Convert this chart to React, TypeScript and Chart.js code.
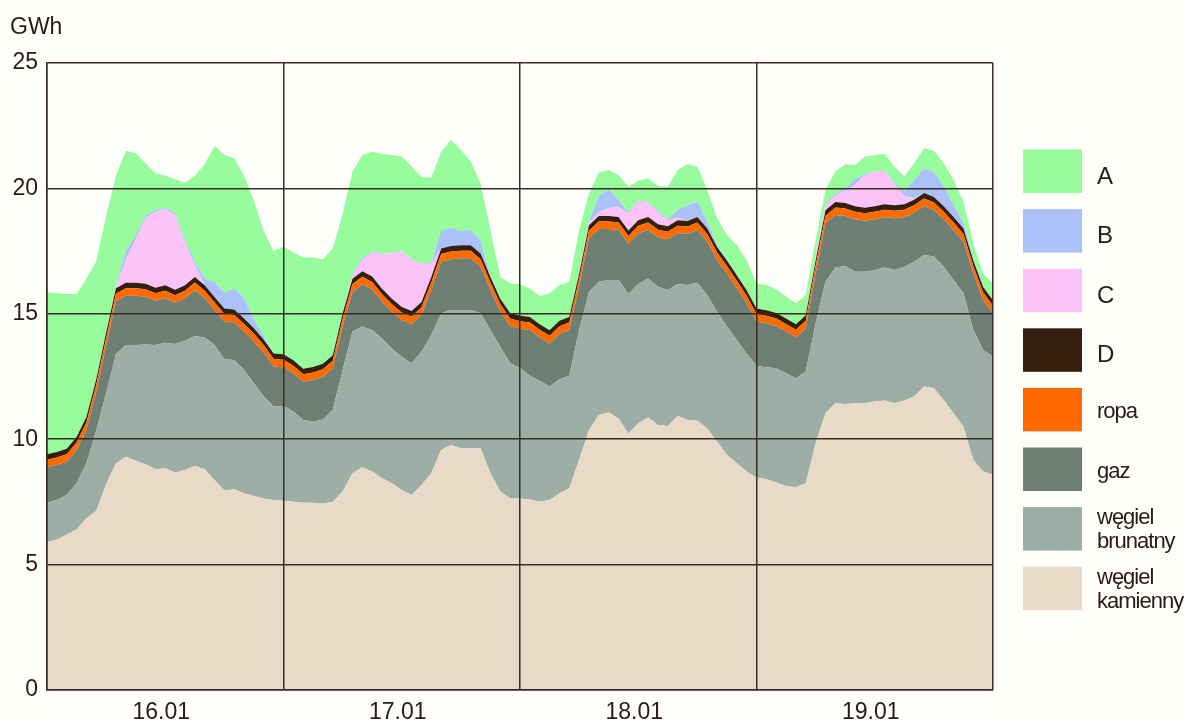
import React, { useEffect, useRef } from 'react';
import { Chart, registerables } from 'chart.js';

Chart.register(...registerables);

// ---- data ----
const days = ['16.01', '17.01', '18.01', '19.01'];
const hourLabels: string[] = [];
for (let d = 0; d < 4; d++) for (let h = 0; h < 24; h++) hourLabels.push(`${days[d]} ${h}:00`);
hourLabels.push('20.01 0:00');

const seriesNames = ['węgiel\nkamienny', 'węgiel\nbrunatny', 'gaz', 'ropa', 'D', 'C', 'B', 'A'];

const kamienny = [
  5.9, 6.0, 6.2, 6.4, 6.85, 7.15, 8.2, 9.04, 9.3, 9.14, 9.0, 8.8, 8.84, 8.67, 8.77, 8.93, 8.8, 8.37, 7.95, 8.0, 7.84, 7.74, 7.64, 7.58,
  7.55, 7.51, 7.47, 7.47, 7.44, 7.51, 7.91, 8.64, 8.88, 8.71, 8.44, 8.24, 7.97, 7.78, 8.17, 8.64, 9.57, 9.77, 9.64, 9.64, 9.64, 8.64, 7.91, 7.64,
  7.64, 7.6, 7.51, 7.58, 7.84, 8.04, 9.17, 10.37, 10.96, 11.06, 10.83, 10.23, 10.63, 10.87, 10.57, 10.53, 10.93, 10.77, 10.74, 10.43, 9.9, 9.37, 9.04, 8.71,
  8.47, 8.4, 8.27, 8.13, 8.08, 8.24, 9.84, 11.03, 11.43, 11.4, 11.43, 11.43, 11.5, 11.54, 11.43, 11.54, 11.7, 12.1, 12.03, 11.56, 11.03, 10.5, 9.17, 8.71, 8.58,
];
const brunatny = [
  1.57, 1.58, 1.58, 1.84, 2.19, 3.22, 3.63, 4.36, 4.46, 4.62, 4.78, 4.96, 5.01, 5.13, 5.16, 5.18, 5.26, 5.39, 5.24, 5.16, 4.92, 4.49, 4.06, 3.72,
  3.77, 3.59, 3.3, 3.23, 3.35, 3.66, 4.85, 5.65, 5.61, 5.64, 5.58, 5.38, 5.32, 5.25, 5.32, 5.51, 5.45, 5.38, 5.51, 5.51, 5.38, 5.71, 5.78, 5.39,
  5.21, 4.93, 4.82, 4.52, 4.55, 4.49, 5.18, 5.51, 5.32, 5.29, 5.52, 5.56, 5.56, 5.54, 5.51, 5.42, 5.26, 5.38, 5.5, 5.32, 5.18, 5.12, 4.92, 4.71,
  4.45, 4.47, 4.56, 4.5, 4.35, 4.46, 4.78, 5.25, 5.42, 5.51, 5.25, 5.25, 5.25, 5.31, 5.32, 5.34, 5.38, 5.24, 5.25, 5.32, 5.32, 5.32, 5.18, 4.85, 4.71,
];
const gaz = [
  1.41, 1.39, 1.32, 1.33, 1.33, 1.5, 1.9, 2.1, 1.96, 1.96, 1.9, 1.76, 1.77, 1.64, 1.69, 1.84, 1.56, 1.39, 1.5, 1.49, 1.53, 1.67, 1.75, 1.6,
  1.55, 1.53, 1.52, 1.66, 1.7, 1.66, 1.73, 1.59, 1.69, 1.62, 1.46, 1.46, 1.46, 1.56, 1.46, 1.8, 2.06, 2.03, 2.06, 2.06, 1.86, 1.6, 1.39, 1.48,
  1.55, 1.82, 1.73, 1.72, 1.81, 1.82, 1.73, 2.13, 2.1, 2.03, 1.99, 2.01, 2.02, 1.93, 1.97, 2.02, 2.02, 2.03, 2.1, 2.13, 2.06, 2.12, 2.06, 2.0,
  1.77, 1.75, 1.68, 1.66, 1.63, 1.72, 1.99, 2.33, 2.09, 1.99, 2.09, 2.03, 2.02, 2.0, 2.06, 1.97, 1.95, 1.96, 1.86, 1.89, 1.99, 2.06, 2.26, 1.99, 1.73,
];
const ropa = [
  0.3, 0.3, 0.3, 0.3, 0.3, 0.3, 0.3, 0.3, 0.3, 0.3, 0.3, 0.3, 0.3, 0.3, 0.3, 0.3, 0.3, 0.3, 0.3, 0.3, 0.3, 0.3, 0.3, 0.3,
  0.3, 0.3, 0.3, 0.3, 0.3, 0.3, 0.3, 0.3, 0.3, 0.3, 0.3, 0.3, 0.3, 0.3, 0.3, 0.3, 0.3, 0.3, 0.3, 0.3, 0.3, 0.3, 0.3, 0.3,
  0.3, 0.3, 0.3, 0.3, 0.3, 0.3, 0.3, 0.3, 0.3, 0.3, 0.3, 0.3, 0.3, 0.3, 0.3, 0.3, 0.3, 0.3, 0.3, 0.3, 0.3, 0.3, 0.3, 0.3,
  0.3, 0.3, 0.3, 0.3, 0.3, 0.3, 0.3, 0.3, 0.3, 0.3, 0.3, 0.3, 0.3, 0.3, 0.3, 0.3, 0.3, 0.3, 0.3, 0.3, 0.3, 0.3, 0.3, 0.3, 0.3,
];
const seriesD = [
  0.22, 0.22, 0.22, 0.22, 0.22, 0.22, 0.22, 0.22, 0.22, 0.22, 0.22, 0.22, 0.22, 0.22, 0.22, 0.22, 0.22, 0.22, 0.22, 0.22, 0.22, 0.22, 0.22, 0.22,
  0.22, 0.22, 0.22, 0.22, 0.22, 0.22, 0.22, 0.22, 0.22, 0.22, 0.22, 0.22, 0.22, 0.22, 0.22, 0.22, 0.22, 0.22, 0.22, 0.22, 0.22, 0.22, 0.22, 0.22,
  0.22, 0.22, 0.22, 0.22, 0.22, 0.22, 0.22, 0.22, 0.22, 0.22, 0.22, 0.22, 0.22, 0.22, 0.22, 0.22, 0.22, 0.22, 0.22, 0.22, 0.22, 0.22, 0.22, 0.22,
  0.22, 0.22, 0.22, 0.22, 0.22, 0.22, 0.22, 0.22, 0.22, 0.22, 0.22, 0.22, 0.22, 0.22, 0.22, 0.22, 0.22, 0.22, 0.22, 0.22, 0.22, 0.22, 0.22, 0.22, 0.22,
];
const seriesC = [
  0, 0, 0, 0, 0, 0, 0, 0.05, 0.93, 1.73, 2.62, 3.03, 3.05, 2.97, 1.69, 0.5, 0, 0, 0, 0, 0, 0, 0, 0,
  0, 0, 0, 0, 0, 0, 0, 0.15, 0.46, 0.96, 1.39, 1.82, 2.22, 2.06, 1.53, 0.53, 0, 0, 0, 0, 0, 0, 0, 0,
  0, 0, 0, 0, 0, 0, 0.05, 0.1, 0.15, 0.32, 0.39, 0.69, 0.77, 0.57, 0.46, 0.24, 0.1, 0, 0, 0, 0, 0, 0, 0,
  0, 0, 0, 0, 0, 0, 0.1, 0.2, 0.27, 0.49, 0.86, 1.29, 1.4, 1.33, 0.83, 0.33, 0.06, 0, 0, 0, 0, 0, 0, 0, 0,
];
const seriesB = [
  0, 0, 0, 0, 0, 0, 0, 0.05, 0.33, 0.16, 0.1, 0.07, 0.04, 0.09, 0.1, 0.12, 0.27, 0.6, 0.64, 0.85, 0.8, 0.37, 0.1, 0,
  0, 0, 0, 0, 0, 0, 0.05, 0.05, 0.07, 0.03, 0.02, 0, 0, 0, 0, 0.05, 0.73, 0.73, 0.57, 0.62, 0.53, 0.05, 0, 0,
  0, 0, 0, 0, 0, 0, 0.02, 0.05, 0.67, 0.73, 0.3, 0.04, 0.02, 0.04, 0.07, 0.03, 0.33, 0.63, 0.62, 0.27, 0.07, 0, 0, 0,
  0, 0, 0, 0, 0, 0, 0.02, 0.07, 0.07, 0.08, 0.23, 0.04, 0, 0, 0.05, 0.2, 0.73, 0.97, 1.0, 0.8, 0.49, 0.25, 0.05, 0, 0,
];
const seriesA = [
  6.46, 6.33, 6.17, 5.7, 5.51, 4.71, 4.65, 4.38, 4.0, 3.27, 2.08, 1.46, 1.27, 1.34, 2.3, 3.41, 4.55, 5.43, 5.48, 5.18, 4.89, 4.71, 4.23, 4.08,
  4.29, 4.29, 4.43, 4.36, 4.17, 4.25, 3.94, 4.07, 4.1, 3.98, 3.96, 3.91, 3.78, 3.7, 3.44, 3.38, 3.13, 3.5, 3.23, 2.72, 2.27, 1.82, 0.88, 1.18,
  1.27, 1.13, 1.13, 1.48, 1.43, 1.41, 1.67, 1.12, 0.91, 0.78, 0.98, 1.02, 0.79, 0.93, 1.0, 1.31, 1.57, 1.64, 1.39, 1.27, 1.08, 1.01, 1.2, 1.2,
  1.0, 1.01, 0.95, 0.87, 0.84, 0.81, 0.69, 0.54, 0.87, 0.97, 0.55, 0.71, 0.64, 0.67, 0.66, 0.57, 0.66, 0.81, 0.84, 0.91, 0.98, 0.82, 0.62, 0.54, 0.67,
];
const yTicks = [0, 5, 10, 15, 20, 25];

// ---- styles ----
const seriesColors = ['#e8dac6', '#9daea7', '#6f7f73', '#ff6a00', '#352010', '#fcc3f8', '#abc2f9', '#97fc9b'];
const gridColor = '#3b2a26';
const textColor = '#2a1a16';
const fontFamily = '"Liberation Sans", Arial, sans-serif';

const overlayPlugin = {
  id: 'overlay',
  afterDraw(chart: any) {
    const ctx = chart.ctx;
    ctx.save();
    ctx.fillStyle = textColor;
    ctx.font = `23px ${fontFamily}`;
    ctx.textAlign = 'left';
    ctx.textBaseline = 'alphabetic';
    ctx.fillText('GWh', 10, 34);
    const ds = chart.data.datasets.slice().reverse();
    ds.forEach((d: any, i: number) => {
      const top = 149.5 + i * 59.6;
      ctx.fillStyle = d.backgroundColor;
      ctx.fillRect(1023, top, 59, 43.5);
      const lines = String(d.label).split('\n');
      ctx.fillStyle = textColor;
      ctx.textBaseline = 'alphabetic';
      const cy = top + 22;
      if (lines.length === 1) {
        const isCap = lines[0] === lines[0].toUpperCase();
        ctx.font = `${isCap ? 24 : 22}px ${fontFamily}`;
        (ctx as any).letterSpacing = isCap ? '0px' : '-1px';
        ctx.fillText(lines[0], 1097, cy + (isCap ? 12 : 8.5));
      } else {
        ctx.font = `22px ${fontFamily}`;
        (ctx as any).letterSpacing = '-1px';
        ctx.fillText(lines[0], 1097, cy - 5);
        ctx.fillText(lines[1], 1097, cy + 19);
      }
      (ctx as any).letterSpacing = '0px';
    });
    ctx.restore();
  },
};

export default function App() {
  const ref = useRef<HTMLCanvasElement | null>(null);
  useEffect(() => {
    if (!ref.current) return;
    const values = [kamienny, brunatny, gaz, ropa, seriesD, seriesC, seriesB, seriesA];
    const chart = new Chart(ref.current, {
      type: 'line',
      data: {
        labels: hourLabels,
        datasets: values.map((v, i) => ({
          label: seriesNames[i],
          data: v,
          backgroundColor: seriesColors[i],
          borderColor: 'rgba(0,0,0,0)',
          borderWidth: 0,
          pointRadius: 0,
          pointHoverRadius: 0,
          tension: 0,
          fill: i === 0 ? 'origin' : '-1',
        })),
      },
      options: {
        animation: false,
        responsive: false,
        events: [],
        layout: { padding: { left: 0, right: 191, top: 63, bottom: 0 } },
        plugins: { legend: { display: false }, tooltip: { enabled: false } },
        scales: {
          x: {
            type: 'category',
            offset: false,
            grid: {
              color: (c: any) => (c.index % 24 === 0 ? gridColor : 'rgba(0,0,0,0)'),
              lineWidth: 1.5,
              drawTicks: false,
              offset: false,
              z: 1,
            },
            border: { display: true, color: gridColor, width: 1.5, z: 1 },
            ticks: {
              autoSkip: false,
              maxRotation: 0,
              minRotation: 0,
              padding: 9,
              labelOffset: -4,
              color: textColor,
              font: { family: fontFamily, size: 23 },
              callback: (_v: any, i: number) => (i % 24 === 12 ? days[Math.floor(i / 24)] : ''),
            },
            afterFit: (s: any) => { s.height = 30; },
          },
          y: {
            stacked: true,
            min: 0,
            max: 25,
            afterBuildTicks: (s: any) => { s.ticks = yTicks.map((v) => ({ value: v })); },
            grid: { color: gridColor, lineWidth: 1.5, drawTicks: false, z: 1 },
            border: { display: true, color: gridColor, width: 1.5, z: 1 },
            ticks: {
              padding: 9,
              color: textColor,
              font: { family: fontFamily, size: 23 },
            },
            afterFit: (s: any) => { s.width = 47; },
          },
        },
      },
      plugins: [overlayPlugin],
    } as any);
    return () => chart.destroy();
  }, []);
  return (
    <div style={{ position: 'fixed', left: 0, top: 0, width: 1184, height: 720, background: '#fffffb' }}>
      <canvas ref={ref} width={1184} height={720} style={{ display: 'block' }} />
    </div>
  );
}
